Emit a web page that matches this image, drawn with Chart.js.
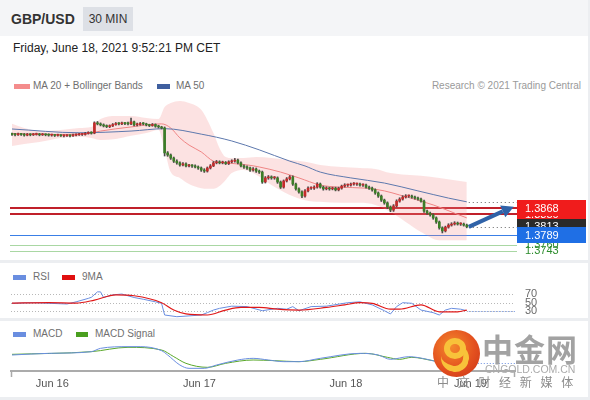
<!DOCTYPE html>
<html><head><meta charset="utf-8">
<script src="https://cdn.jsdelivr.net/npm/chart.js@4.4.1/dist/chart.umd.min.js"></script>
<style>
html,body{margin:0;padding:0;}
body{width:590px;height:400px;background:#eceef1;position:relative;overflow:hidden;font-family:"Liberation Sans",Arial,sans-serif;}
.a{position:absolute;white-space:nowrap;}
#hdr{left:0;top:0;width:588px;height:36px;background:#f4f5f7;}
#p1{left:0;top:36px;width:588px;height:224px;background:#fff;}
#p2{left:0;top:263px;width:588px;height:55px;background:#fff;}
#p3{left:0;top:321px;width:588px;height:76px;background:#fff;}
#title{left:11px;top:11px;font-weight:bold;font-size:14px;line-height:16px;color:#333;}
#tf{left:83px;top:7px;width:50px;height:24px;background:#dde0e6;font-size:12px;color:#333;text-align:center;line-height:24px;}
#date{left:13px;top:41px;font-size:12px;line-height:14px;color:#222;}
.lg{font-size:10px;line-height:12px;color:#6f6f6f;}
.sw{height:5px;}
#copy{right:9px;top:80px;font-size:10px;line-height:12px;color:#9a9a9a;}
canvas{position:absolute;left:0;}
#wm{position:absolute;left:0;top:0;width:590px;height:400px;pointer-events:none;}
#logo{left:433px;top:330px;width:47px;height:47px;border-radius:50%;background:radial-gradient(circle at 40% 35%,#f4892c 0%,#e3501f 55%,#c93217 100%);}
#ring{left:11px;top:8px;width:10px;height:9px;border:6px solid #f8c23a;border-radius:50%;}
#tail{left:8px;top:14px;width:22px;height:22px;border-right:6px solid #f8c23a;border-bottom:6px solid #f8c23a;border-radius:50%;transform:rotate(10deg);}
#wm1{left:482px;top:330px;font-family:"Noto Sans CJK SC";font-weight:bold;font-size:31px;line-height:36px;color:#a2a2a2;letter-spacing:1px;}
#wm2{left:485px;top:363px;font-size:10.5px;line-height:12px;color:#ababab;}
#wm3{left:437px;top:375px;font-family:"Noto Sans CJK SC";font-size:12px;line-height:14px;color:#8c8c8c;letter-spacing:3px;}
</style>
</head>
<body>
<div class="a" id="hdr"></div>
<div class="a" id="p1"></div>
<div class="a" id="p2"></div>
<div class="a" id="p3"></div>
<div class="a" id="title">GBP/USD</div>
<div class="a" id="tf">30 MIN</div>
<div class="a" id="date">Friday, June 18, 2021 9:52:21 PM CET</div>

<div class="a sw" style="left:14px;top:84px;width:16px;background:#f48c8c;"></div>
<div class="a lg" style="left:33px;top:80px;">MA 20 + Bollinger Bands</div>
<div class="a sw" style="left:157px;top:84px;width:13px;background:#3f5f9f;"></div>
<div class="a lg" style="left:176px;top:80px;">MA 50</div>
<div class="a" id="copy">Research © 2021 Trading Central</div>

<div class="a sw" style="left:13px;top:275px;width:13px;background:#6a8ee0;"></div>
<div class="a lg" style="left:33px;top:271px;">RSI</div>
<div class="a sw" style="left:62px;top:275px;width:13px;background:#e01010;"></div>
<div class="a lg" style="left:82px;top:271px;">9MA</div>

<div class="a sw" style="left:13px;top:332px;width:13px;background:#6a8ee0;"></div>
<div class="a lg" style="left:33px;top:328px;">MACD</div>
<div class="a sw" style="left:76px;top:332px;width:12px;background:#4a9f1f;"></div>
<div class="a lg" style="left:95px;top:328px;">MACD Signal</div>

<canvas id="c1" width="590" height="165" style="top:95px"></canvas>
<canvas id="c2" width="590" height="38" style="top:280px"></canvas>
<canvas id="c3" width="590" height="60" style="top:338px"></canvas>

<div id="wm">
  <div class="a" id="logo"><div class="a" id="tail"></div><div class="a" id="ring"></div></div>
  <div class="a" id="wm1">中金网</div>
  <div class="a" id="wm2">CNGOLD.COM.CN</div>
  <div class="a" id="wm3">中 文 财 经 新 媒 体</div>
</div>

<script>
// ---------- DATA (30-min candles, index 0 = Jun 15 17:30 CET) ----------
const opens = [1.4084,1.4083,1.4082,1.4084,1.4083,1.4081,1.4083,1.4082,1.4083,1.4084,1.4082,1.4083,1.4082,
1.4081,1.4081,1.4080,1.4081,1.4079,1.4079,1.4080,1.4079,
1.4081,1.4082,1.4083,1.4083,1.4086,1.4088,1.4087,1.4117,
1.4114,1.4111,1.4108,1.4106,1.4108,1.4112,1.4115,1.4114,1.4116,1.4115,
1.4114,1.4120,1.4111,1.4112,1.4115,1.4114,1.4111,1.4109,1.4112,1.4107,
1.4105,1.4102,1.4029,1.4023,1.4014,1.4005,1.4000,1.3994,1.3997,1.3991,
1.3992,1.3991,1.3988,1.3985,1.3979,1.3976,1.3985,1.3991,1.4000,1.4003,
1.4000,1.4001,1.3998,1.4003,1.4005,1.4008,1.4000,1.3991,1.3988,1.3985,
1.3979,1.3982,1.3976,1.3973,1.3944,1.3956,1.3959,1.3956,1.3956,1.3944,
1.3929,1.3947,1.3953,1.3959,1.3938,1.3924,1.3915,1.3903,1.3918,1.3926,
1.3926,1.3929,1.3938,1.3929,1.3924,1.3926,1.3924,1.3926,1.3921,1.3926,
1.3932,1.3935,1.3935,1.3938,1.3938,1.3938,1.3935,1.3935,1.3929,1.3926,
1.3921,1.3912,1.3903,1.3891,1.3883,1.3871,1.3862,1.3874,1.3888,1.3894,
1.3900,1.3903,1.3903,1.3900,1.3897,1.3894,1.3888,1.3859,1.3853,1.3848,
1.3839,1.3827,1.3810,1.3801,1.3812,1.3818,1.3821,1.3824,1.3821,1.3821,1.3818];
const closes = [1.4083,1.4082,1.4084,1.4083,1.4081,1.4083,1.4082,1.4083,1.4084,1.4082,1.4083,1.4082,1.4081,
1.4081,1.4080,1.4081,1.4079,1.4079,1.4080,1.4079,1.4081,
1.4082,1.4083,1.4083,1.4086,1.4088,1.4087,1.4117,1.4114,
1.4111,1.4108,1.4106,1.4108,1.4112,1.4115,1.4114,1.4116,1.4115,1.4114,
1.4120,1.4111,1.4112,1.4115,1.4114,1.4111,1.4109,1.4112,1.4107,1.4105,
1.4102,1.4029,1.4023,1.4014,1.4005,1.4000,1.3994,1.3997,1.3991,1.3992,
1.3991,1.3988,1.3985,1.3979,1.3976,1.3985,1.3991,1.4000,1.4003,1.4000,
1.4001,1.3998,1.4003,1.4005,1.4008,1.4000,1.3991,1.3988,1.3985,1.3979,
1.3982,1.3976,1.3973,1.3944,1.3956,1.3959,1.3956,1.3956,1.3944,1.3929,
1.3947,1.3953,1.3959,1.3938,1.3924,1.3915,1.3903,1.3918,1.3926,1.3926,
1.3929,1.3938,1.3929,1.3924,1.3926,1.3924,1.3926,1.3921,1.3926,1.3932,
1.3935,1.3935,1.3938,1.3938,1.3938,1.3935,1.3935,1.3929,1.3926,1.3921,
1.3912,1.3903,1.3891,1.3883,1.3871,1.3862,1.3874,1.3888,1.3894,1.3900,
1.3903,1.3903,1.3900,1.3897,1.3894,1.3888,1.3859,1.3853,1.3848,1.3839,
1.3827,1.3810,1.3801,1.3812,1.3818,1.3821,1.3824,1.3821,1.3821,1.3818,1.3813];
const highs = [1.4087,1.4086,1.4087,1.4086,1.4086,1.4086,1.4085,1.4086,1.4087,1.4086,1.4086,1.4085,1.4085,
1.4084,1.4083,1.4084,1.4083,1.4082,1.4083,1.4082,1.4084,
1.4085,1.4086,1.4086,1.4089,1.4091,1.4091,1.4120,1.4121,
1.4117,1.4114,1.4111,1.4111,1.4115,1.4118,1.4118,1.4119,1.4118,1.4119,
1.4131,1.4122,1.4116,1.4118,1.4118,1.4116,1.4113,1.4115,1.4114,1.4110,
1.4107,1.4105,1.4033,1.4026,1.4017,1.4009,1.4003,1.4001,1.4000,1.3996,
1.3995,1.3994,1.3991,1.3988,1.3983,1.3988,1.3995,1.4004,1.4007,1.4006,
1.4005,1.4004,1.4006,1.4009,1.4013,1.4011,1.4003,1.3994,1.3991,1.3988,
1.3986,1.3985,1.3979,1.3976,1.3960,1.3963,1.3962,1.3960,1.3959,1.3947,
1.3950,1.3957,1.3963,1.3962,1.3941,1.3927,1.3918,1.3922,1.3930,1.3930,
1.3933,1.3942,1.3941,1.3932,1.3930,1.3929,1.3929,1.3929,1.3929,1.3935,
1.3939,1.3938,1.3941,1.3942,1.3941,1.3941,1.3939,1.3938,1.3932,1.3929,
1.3924,1.3915,1.3906,1.3894,1.3886,1.3874,1.3878,1.3892,1.3898,1.3904,
1.3907,1.3906,1.3906,1.3903,1.3900,1.3897,1.3891,1.3862,1.3856,1.3851,
1.3842,1.3830,1.3813,1.3815,1.3822,1.3825,1.3828,1.3827,1.3825,1.3824,1.3821];
const lows = [1.4080,1.4079,1.4080,1.4080,1.4078,1.4079,1.4079,1.4080,1.4081,1.4079,1.4080,1.4079,1.4078,
1.4078,1.4077,1.4078,1.4077,1.4076,1.4077,1.4076,1.4077,
1.4079,1.4080,1.4080,1.4081,1.4084,1.4084,1.4085,1.4111,
1.4108,1.4105,1.4103,1.4103,1.4106,1.4110,1.4111,1.4112,1.4112,1.4111,
1.4112,1.4108,1.4108,1.4110,1.4111,1.4108,1.4106,1.4107,1.4104,1.4102,
1.4099,1.4020,1.4019,1.4010,1.4001,1.3996,1.3990,1.3991,1.3988,1.3988,
1.3987,1.3985,1.3981,1.3975,1.3972,1.3973,1.3982,1.3989,1.3997,1.3997,
1.3997,1.3995,1.3995,1.4000,1.4002,1.3997,1.3988,1.3984,1.3981,1.3975,
1.3976,1.3972,1.3969,1.3940,1.3941,1.3952,1.3952,1.3952,1.3940,1.3925,
1.3926,1.3944,1.3950,1.3934,1.3920,1.3911,1.3898,1.3900,1.3915,1.3922,
1.3922,1.3926,1.3926,1.3920,1.3921,1.3920,1.3921,1.3918,1.3918,1.3923,
1.3929,1.3931,1.3932,1.3935,1.3934,1.3932,1.3931,1.3926,1.3922,1.3917,
1.3908,1.3899,1.3887,1.3879,1.3866,1.3857,1.3858,1.3871,1.3885,1.3891,
1.3897,1.3899,1.3897,1.3894,1.3891,1.3885,1.3855,1.3849,1.3844,1.3835,
1.3823,1.3806,1.3795,1.3798,1.3809,1.3815,1.3818,1.3818,1.3817,1.3815,1.3810];

const bbIdx   = [0,4,9,16,22,26,29,34,39,44,48,50,52,55,58,62,66,68,70,72,76,80,85,91,96,101,108,114,119,124,129,134,140,149];
const bbUpper = [1.4114,1.4102,1.4093,1.4096,1.4102,1.4105,1.4128,1.4137,1.4137,1.4131,1.4128,1.4163,1.4175,1.4181,1.4175,1.4155,1.4087,1.4043,1.4017,1.4014,1.4014,1.4017,1.4014,1.4008,1.4003,1.3994,1.3988,1.3985,1.3982,1.3970,1.3965,1.3962,1.3956,1.3944];
const bbLower = [1.4049,1.4055,1.4061,1.4073,1.4076,1.4073,1.4067,1.4070,1.4079,1.4087,1.4096,1.4038,1.3973,1.3956,1.3938,1.3926,1.3924,1.3932,1.3950,1.3970,1.3979,1.3965,1.3935,1.3906,1.3891,1.3886,1.3883,1.3883,1.3877,1.3856,1.3827,1.3798,1.3774,1.3774];
const ma20Idx = [0,13,25,29,39,49,52,55,58,62,66,70,77,81,88,94,101,107,116,122,127,138,145,149];
const ma20    = [1.4086,1.4083,1.4086,1.4093,1.4105,1.4114,1.4102,1.4073,1.4052,1.4032,1.4005,1.4000,1.3994,1.3988,1.3973,1.3956,1.3935,1.3929,1.3926,1.3918,1.3906,1.3877,1.3853,1.3839];
const ma50Idx = [0,22,39,50,62,72,81,91,96,101,111,122,133,143,149];
const ma50    = [1.4099,1.4088,1.4093,1.4100,1.4084,1.4064,1.4038,1.4005,1.3991,1.3973,1.3956,1.3941,1.3918,1.3897,1.3886];

const levelValues = [1.3868,1.3850,1.3813,1.3789,1.3760,1.3743];
const forecastFrom = [149,1.3813];
const forecastTo   = [164.4,1.3872];

const rsiIdx = [0,7,18,21,25,26,28,29,30,33,36,40,43,47,49,50,54,57,62,64,66,68,72,77,82,87,90,92,94,98,103,110,114,118,122,124,126,128,131,134,138,140,142,144,147,149];
const rsi    = [48.6,50,47,52,60,62.5,75,75,62,68,70,62,58,52,48.6,21.6,17.7,19,21.6,27,33,37,42,41,31.5,37,35,41,31.5,41,42,50,52,45,31.5,24,41,50,48.6,33,27,21.6,33,37,35,31.5];
const ma9Idx = [0,12,21,27,34,40,49,53,57,64,70,75,81,87,94,103,109,114,118,124,127,134,140,146,149];
const ma9    = [49,50,49,56,68,66,50,33,24,21.6,33,39,39,35,33,39,45,50,48.6,35,35,45,29,29,33];
const rsiLevels = [70,50,30];

const macdIdx = [0,12,26,29,38,42,49,51,55,58,63,67,74,79,84,89,94,101,114,120,124,130,136,139,144,149];
const macd    = [-0.00045,-0.0002,0.00005,0.00055,0.0008,0.0008,0.0002,-0.00045,-0.00195,-0.00245,-0.00245,-0.00195,-0.0012,-0.00095,-0.0012,-0.00145,-0.00145,-0.00095,-0.0002,-0.00045,-0.0011,-0.0007,-0.0011,-0.00145,-0.00195,-0.00165];
const signalIdx = [0,26,38,49,53,57,64,70,79,86,94,101,116,123,127,131,138,144,149];
const signal    = [-0.00035,0.00005,0.0007,0.0003,-0.0007,-0.0017,-0.0023,-0.0017,-0.0012,-0.0013,-0.00145,-0.0011,-0.0002,-0.0008,-0.0011,-0.0008,-0.0013,-0.00165,-0.0017];

const tickPos    = [13.2,61.4,109.4,150.2];
const tickLabels = ['Jun 16','Jun 17','Jun 18','Jun 19'];

// ---------- STYLE ----------
const FONT = 'Liberation Sans';
const X_MIN = -0.33, X_MAX = 164.8;
const PAD = {left:11, right:75, top:0, bottom:0};
const UP = '#c42b2b', DOWN = '#3c7d27';
const levelStyle = [
  {line:'#c0202a', w:2, box:'#f01c1c', text:'#fff'},
  {line:'#c0202a', w:2, box:'#f01c1c', text:'#fff'},
  {line:'#666', w:1, dash:[1,3], fromLast:true, box:'#2a2a2a', text:'#fff'},
  {line:'#3a7fe6', w:1, box:'#1f6fe5', text:'#fff'},
  {line:'#a9d7a3', w:1, box:null, text:'#2c8c2c'},
  {line:'#a9d7a3', w:1, box:null, text:'#2c8c2c'}
];
const labelOrder = [4,5,1,2,0,3];

const pts = (idx, vals) => idx.map((x,k)=>({x, y:vals[k]}));
const lineDs = (data, color, extra) => Object.assign({type:'line', data, borderColor:color, borderWidth:1,
  pointRadius:0, fill:false, cubicInterpolationMode:'monotone'}, extra||{});
const baseX = {type:'linear', min:X_MIN, max:X_MAX, display:false, offset:false, grid:{offset:false}};
const common = {responsive:false, animation:false, events:[],
  layout:{padding:PAD}, plugins:{legend:{display:false}, tooltip:{enabled:false}}};

// ---------- MAIN PRICE CHART ----------
const mainPlugin = {
  id:'mainDeco',
  beforeDatasetsDraw(chart){
    const {ctx, scales:{x,y}} = chart;
    ctx.save();
    levelValues.forEach((v,k)=>{
      const st = levelStyle[k];
      let py = Math.round(y.getPixelForValue(v));
      if (st.w % 2) py += 0.5;
      ctx.strokeStyle = st.line; ctx.lineWidth = st.w;
      ctx.setLineDash(st.dash || []);
      ctx.beginPath();
      ctx.moveTo(st.fromLast ? x.getPixelForValue(forecastFrom[0]) + 2 : 10, py);
      ctx.lineTo(517, py); ctx.stroke();
    });
    ctx.restore();
  },
  afterDatasetsDraw(chart){
    const {ctx, scales:{x,y}} = chart;
    ctx.save();
    const lastMa = ma50[ma50.length-1];
    const py50 = Math.round(y.getPixelForValue(lastMa)) + 0.5;
    ctx.strokeStyle = '#666'; ctx.lineWidth = 1; ctx.setLineDash([1,3]);
    ctx.beginPath(); ctx.moveTo(x.getPixelForValue(ma50Idx[ma50Idx.length-1]) + 2, py50); ctx.lineTo(517, py50); ctx.stroke();
    ctx.setLineDash([]);
    const x0 = x.getPixelForValue(forecastFrom[0]), y0 = y.getPixelForValue(forecastFrom[1]);
    const x1 = x.getPixelForValue(forecastTo[0]), y1 = y.getPixelForValue(forecastTo[1]);
    const ang = Math.atan2(y1-y0, x1-x0), hl = 12, hw = 6.5;
    const bx = x1 - hl*Math.cos(ang), by = y1 - hl*Math.sin(ang);
    ctx.strokeStyle = '#2f62a8'; ctx.fillStyle = '#2f62a8'; ctx.lineWidth = 4;
    ctx.beginPath(); ctx.moveTo(x0+2, y0); ctx.lineTo(bx, by); ctx.stroke();
    ctx.beginPath(); ctx.moveTo(x1, y1);
    ctx.lineTo(bx + hw*Math.sin(ang), by - hw*Math.cos(ang));
    ctx.lineTo(bx - hw*Math.sin(ang), by + hw*Math.cos(ang));
    ctx.closePath(); ctx.fill();
    ctx.font = '11px "' + FONT + '"'; ctx.textBaseline = 'middle'; ctx.textAlign = 'left';
    labelOrder.forEach(k=>{
      const st = levelStyle[k];
      const py = y.getPixelForValue(levelValues[k]);
      if (st.box){ ctx.fillStyle = st.box; ctx.fillRect(517, Math.round(py)-8, 69, 16); }
      ctx.fillStyle = st.text;
      ctx.fillText(levelValues[k].toFixed(4), 525, py + 0.5);
    });
    ctx.restore();
  }
};

new Chart(document.getElementById('c1'), {
  type:'bar',
  data:{datasets:[
    lineDs(pts(bbIdx,bbUpper), 'rgba(0,0,0,0)', {fill:'+1', backgroundColor:'rgba(244,140,140,0.25)', order:10}),
    lineDs(pts(bbIdx,bbLower), 'rgba(0,0,0,0)', {order:9}),
    lineDs(pts(ma20Idx,ma20), '#ef8585', {order:8}),
    lineDs(pts(ma50Idx,ma50), '#5d78ad', {order:7}),
    {type:'bar', data: closes.map((c,i)=>({x:i, y:[lows[i], highs[i]]})), backgroundColor:'#4a4a4a',
     barThickness:1, grouped:false, order:2},
    {type:'bar', data: closes.map((c,i)=>({x:i, y:[opens[i], c]})),
     backgroundColor: ctx => closes[ctx.dataIndex] >= opens[ctx.dataIndex] ? UP : DOWN,
     barThickness:2, minBarLength:1, grouped:false, order:1}
  ]},
  options:Object.assign({}, common, {
    scales:{x:baseX, y:{type:'linear', min:1.371595, max:1.41984, display:false}}
  }),
  plugins:[mainPlugin]
});

// ---------- RSI ----------
const rsiPlugin = {
  id:'rsiDeco',
  beforeDatasetsDraw(chart){
    const {ctx, scales:{x,y}} = chart;
    ctx.save();
    ctx.strokeStyle = '#b8b8b8'; ctx.lineWidth = 1; ctx.setLineDash([1,2]);
    rsiLevels.forEach(v=>{
      const py = Math.round(y.getPixelForValue(v)) + 0.5;
      ctx.beginPath(); ctx.moveTo(11, py); ctx.lineTo(515, py); ctx.stroke();
    });
    ctx.restore();
  },
  afterDatasetsDraw(chart){
    const {ctx, scales:{x,y}} = chart;
    ctx.save();
    const lv = rsi[rsi.length-1], py = Math.round(y.getPixelForValue(lv)) + 0.5;
    ctx.strokeStyle = '#6a8ee0'; ctx.lineWidth = 1; ctx.setLineDash([1,2]);
    ctx.beginPath(); ctx.moveTo(x.getPixelForValue(rsiIdx[rsiIdx.length-1]) + 2, py); ctx.lineTo(515, py); ctx.stroke();
    ctx.setLineDash([]);
    ctx.font = '11px "' + FONT + '"'; ctx.textBaseline = 'middle'; ctx.textAlign = 'left';
    rsiLevels.forEach(v=>{
      const p = y.getPixelForValue(v);
      ctx.fillStyle = '#fff'; ctx.fillRect(523, p-4, 16, 9);
      ctx.fillStyle = '#6a6a6a'; ctx.fillText(String(v), 525, p);
    });
    ctx.restore();
  }
};
new Chart(document.getElementById('c2'), {
  type:'line',
  data:{datasets:[
    lineDs(pts(rsiIdx,rsi), '#6a8ee0', {cubicInterpolationMode:'default', tension:0, order:2}),
    lineDs(pts(ma9Idx,ma9), '#e01818', {borderWidth:1.2, order:1})
  ]},
  options:Object.assign({}, common, {
    scales:{x:baseX, y:{type:'linear', min:14.67, max:102.42, display:false}}
  }),
  plugins:[rsiPlugin]
});

// ---------- MACD ----------
const macdPlugin = {
  id:'macdDeco',
  afterDatasetsDraw(chart){
    const {ctx, chartArea:a, scales:{x,y}} = chart;
    ctx.save();
    const lv = macd[macd.length-1], py = Math.round(y.getPixelForValue(lv)) + 0.5;
    ctx.strokeStyle = '#6a8ee0'; ctx.lineWidth = 1; ctx.setLineDash([1,2]);
    ctx.beginPath(); ctx.moveTo(x.getPixelForValue(macdIdx[macdIdx.length-1]) + 8, py); ctx.lineTo(515, py); ctx.stroke();
    ctx.setLineDash([]);
    ctx.strokeStyle = '#aaa'; ctx.lineWidth = 1.5;
    [a.left+0.5, a.right-0.5].forEach(px=>{
      ctx.beginPath(); ctx.moveTo(px, a.bottom); ctx.lineTo(px, a.bottom+6); ctx.stroke();
    });
    ctx.restore();
  }
};
new Chart(document.getElementById('c3'), {
  type:'line',
  data:{datasets:[
    lineDs(pts(signalIdx,signal), '#5aa82a', {order:2}),
    lineDs(pts(macdIdx,macd), '#6a8ee0', {order:1})
  ]},
  options:Object.assign({}, common, {
    scales:{
      x:{type:'linear', min:X_MIN, max:X_MAX, display:true, offset:false,
         grid:{display:false, drawTicks:false},
         border:{display:true, color:'#ababab', width:2},
         afterBuildTicks: s => { s.ticks = tickPos.map(v=>({value:v})); },
         afterFit: s => { s.height = 27; },
         ticks:{autoSkip:false, maxRotation:0, padding:6, color:'#555',
                font:{family:FONT, size:11}, callback:(v,i)=>tickLabels[i]}},
      y:{type:'linear', min:-0.00285, max:0.0021, display:false}
    }
  }),
  plugins:[macdPlugin]
});
</script>
</body></html>
